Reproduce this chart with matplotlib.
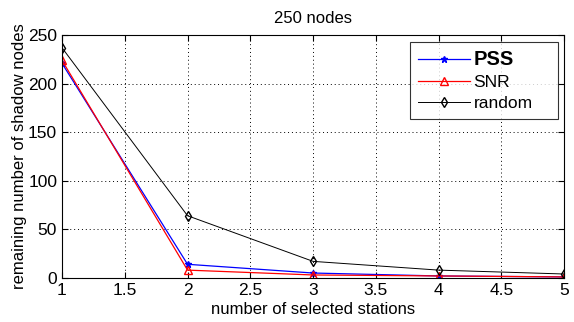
import matplotlib
matplotlib.use("Agg")
import matplotlib.pyplot as plt

x = [1, 2, 3, 4, 5]
pss = [221, 14, 5, 2, 1]
snr = [224, 8, 3, 2, 1]
rnd = [237, 64, 17, 8, 4]

plt.rcParams['font.family'] = ['Liberation Sans', 'DejaVu Sans']

fig = plt.figure(figsize=(5.74, 3.22), dpi=100)
ax = fig.add_axes([0.108, 0.137, 0.875, 0.754])

ax.plot(x, pss, color='blue', marker='*', markersize=5, linewidth=0.9, label='PSS')
ax.plot(x, snr, color='red', marker='^', markersize=6, markerfacecolor='none', linewidth=0.9, label='SNR')
ax.plot(x, rnd, color='black', marker='d', markersize=5, markerfacecolor='none', linewidth=0.7, label='random')

ax.set_xlim(1, 5)
ax.set_ylim(0, 250)
ax.set_xticks([1, 1.5, 2, 2.5, 3, 3.5, 4, 4.5, 5])
ax.set_xticklabels(['1', '1.5', '2', '2.5', '3', '3.5', '4', '4.5', '5'])
ax.set_yticks([0, 50, 100, 150, 200, 250])
ax.grid(True, linestyle=(0, (1, 3)), color='black', linewidth=0.7)
ax.tick_params(direction='in', top=True, right=True, labelsize=12.5, length=4)
for s in ax.spines.values():
    s.set_linewidth(0.8)

ax.set_title('250 nodes', fontsize=12, pad=9)
ax.set_xlabel('number of selected stations', fontsize=12, labelpad=3)
ax.set_ylabel('remaining number of shadow nodes', fontsize=12, labelpad=1)

leg = ax.legend(loc='upper left', bbox_to_anchor=(0.693, 0.971, 0.295, 0.0), mode='expand',
                fancybox=False, edgecolor='black', fontsize=12.5, borderpad=0.45,
                labelspacing=0.35, handlelength=3.0, handletextpad=0.2, borderaxespad=0.0)
leg.get_frame().set_linewidth(0.8)
leg.get_texts()[0].set_fontweight('bold')
leg.get_texts()[0].set_fontsize(14.5)

fig.savefig('out.png', dpi=100)
